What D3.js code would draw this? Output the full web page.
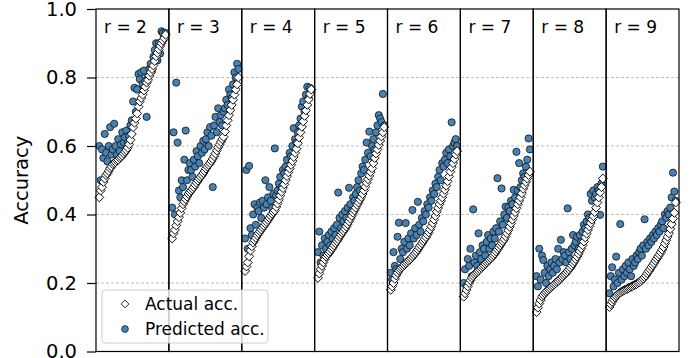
<!DOCTYPE html>
<html>
<head>
<meta charset="utf-8">
<script src="https://cdn.jsdelivr.net/npm/d3@7"></script>
<style>
  html, body { margin: 0; padding: 0; background: #fff; }
  svg { display: block; font-family: "DejaVu Sans", sans-serif; }
</style>
</head>
<body>
<svg id="chart" width="694" height="358"></svg>
<script>
// ---------------- data ----------------
const panels = [2, 3, 4, 5, 6, 7, 8, 9];
const yTicks = [0.0, 0.2, 0.4, 0.6, 0.8, 1.0];
const legendLabels = ["Actual acc.", "Predicted acc."];

const actualR2 = [0.45,0.47,0.48,0.495,0.505,0.515,0.52,0.527,0.535,0.54,0.547,0.55,0.553,0.557,0.56,0.565,0.568,0.572,0.578,0.583,0.588,0.595,0.605,0.618,0.635,0.655,0.668,0.68,0.695,0.715,0.73,0.74,0.75,0.762,0.773,0.785,0.793,0.805,0.815,0.825,0.835,0.848,0.862,0.872,0.882,0.892,0.9,0.908,0.915,0.925];
const predictedR2 = [0.60,0.50,0.59,0.565,0.635,0.58,0.555,0.60,0.655,0.575,0.59,0.665,0.60,0.575,0.62,0.585,0.605,0.64,0.61,0.625,0.645,0.61,0.63,0.66,0.675,0.73,0.77,0.70,0.765,0.81,0.795,0.815,0.78,0.82,0.79,0.685,0.80,0.825,0.84,0.82,0.86,0.88,0.90,0.85,0.90,0.87,0.935,0.93,0.92,0.93];

const actualR3 = [0.33,0.345,0.355,0.368,0.38,0.392,0.405,0.418,0.43,0.438,0.445,0.452,0.46,0.465,0.47,0.475,0.48,0.487,0.493,0.499,0.505,0.51,0.515,0.521,0.527,0.534,0.54,0.545,0.55,0.556,0.562,0.57,0.578,0.587,0.596,0.604,0.612,0.62,0.627,0.642,0.66,0.675,0.69,0.705,0.72,0.735,0.75,0.765,0.78,0.80];
const predictedR3 = [0.42,0.64,0.40,0.785,0.61,0.47,0.45,0.50,0.48,0.56,0.645,0.50,0.53,0.55,0.53,0.51,0.56,0.54,0.585,0.57,0.55,0.60,0.58,0.615,0.59,0.62,0.64,0.60,0.655,0.63,0.48,0.66,0.685,0.64,0.71,0.67,0.69,0.66,0.70,0.71,0.735,0.72,0.765,0.75,0.74,0.78,0.815,0.80,0.84,0.825];

const actualR4 = [0.235,0.248,0.26,0.278,0.295,0.307,0.318,0.325,0.332,0.339,0.345,0.351,0.356,0.362,0.367,0.373,0.378,0.384,0.39,0.396,0.402,0.407,0.412,0.422,0.432,0.443,0.455,0.466,0.477,0.488,0.50,0.512,0.523,0.534,0.545,0.556,0.568,0.58,0.592,0.608,0.625,0.64,0.656,0.672,0.688,0.704,0.72,0.736,0.752,0.765];
const predictedR4 = [0.33,0.53,0.30,0.542,0.36,0.34,0.40,0.43,0.37,0.42,0.41,0.435,0.39,0.44,0.42,0.50,0.43,0.45,0.48,0.44,0.42,0.46,0.593,0.455,0.47,0.49,0.51,0.48,0.53,0.52,0.54,0.56,0.53,0.58,0.57,0.60,0.652,0.62,0.61,0.64,0.66,0.68,0.715,0.73,0.70,0.75,0.773,0.74,0.77,0.76];

const actualR5 = [0.215,0.228,0.24,0.25,0.26,0.269,0.277,0.282,0.287,0.292,0.298,0.304,0.31,0.316,0.322,0.328,0.335,0.341,0.347,0.352,0.358,0.365,0.372,0.38,0.388,0.396,0.405,0.412,0.42,0.428,0.435,0.443,0.451,0.46,0.47,0.481,0.493,0.503,0.513,0.524,0.535,0.55,0.565,0.578,0.59,0.603,0.615,0.628,0.64,0.655];
const predictedR5 = [0.29,0.35,0.26,0.31,0.28,0.33,0.30,0.32,0.34,0.31,0.35,0.33,0.36,0.34,0.37,0.464,0.39,0.36,0.40,0.38,0.41,0.39,0.42,0.478,0.43,0.41,0.45,0.44,0.46,0.48,0.50,0.47,0.52,0.54,0.53,0.56,0.61,0.58,0.642,0.57,0.60,0.62,0.59,0.64,0.66,0.69,0.68,0.67,0.752,0.66];

const actualR6 = [0.18,0.19,0.20,0.212,0.222,0.23,0.237,0.241,0.245,0.249,0.253,0.257,0.261,0.265,0.268,0.272,0.277,0.282,0.287,0.292,0.298,0.304,0.31,0.316,0.322,0.328,0.334,0.341,0.348,0.356,0.365,0.375,0.385,0.396,0.408,0.419,0.43,0.44,0.45,0.461,0.472,0.484,0.497,0.511,0.525,0.538,0.55,0.562,0.575,0.585];
const predictedR6 = [0.23,0.21,0.29,0.25,0.24,0.335,0.376,0.27,0.30,0.29,0.32,0.375,0.30,0.33,0.31,0.345,0.413,0.33,0.36,0.34,0.437,0.37,0.35,0.39,0.38,0.41,0.40,0.43,0.42,0.45,0.44,0.47,0.46,0.49,0.48,0.51,0.53,0.50,0.55,0.54,0.56,0.58,0.55,0.59,0.57,0.669,0.60,0.61,0.62,0.60];

const actualR7 = [0.16,0.17,0.18,0.19,0.20,0.208,0.215,0.22,0.225,0.229,0.232,0.236,0.24,0.244,0.248,0.252,0.256,0.26,0.264,0.268,0.272,0.276,0.281,0.286,0.292,0.298,0.304,0.31,0.316,0.322,0.328,0.336,0.345,0.354,0.364,0.374,0.385,0.396,0.407,0.418,0.43,0.44,0.45,0.462,0.475,0.485,0.495,0.505,0.515,0.525];
const predictedR7 = [0.20,0.24,0.19,0.27,0.25,0.30,0.22,0.415,0.26,0.28,0.25,0.345,0.29,0.27,0.31,0.30,0.28,0.32,0.34,0.30,0.33,0.31,0.35,0.33,0.36,0.506,0.35,0.38,0.476,0.37,0.40,0.423,0.39,0.42,0.41,0.44,0.43,0.472,0.45,0.583,0.47,0.55,0.48,0.50,0.52,0.51,0.54,0.56,0.622,0.59];

const actualR8 = [0.115,0.128,0.14,0.15,0.16,0.165,0.17,0.174,0.178,0.182,0.185,0.189,0.192,0.196,0.199,0.203,0.206,0.21,0.214,0.218,0.222,0.226,0.23,0.235,0.24,0.245,0.251,0.257,0.263,0.27,0.277,0.285,0.293,0.301,0.31,0.321,0.333,0.344,0.355,0.365,0.375,0.385,0.395,0.407,0.42,0.435,0.45,0.465,0.48,0.505];
const predictedR8 = [0.22,0.19,0.30,0.21,0.28,0.267,0.23,0.20,0.25,0.22,0.24,0.26,0.23,0.25,0.27,0.24,0.30,0.26,0.326,0.27,0.29,0.28,0.26,0.418,0.29,0.27,0.30,0.34,0.31,0.32,0.335,0.30,0.34,0.32,0.35,0.37,0.36,0.38,0.40,0.39,0.46,0.44,0.47,0.45,0.46,0.48,0.47,0.399,0.49,0.54];

const actualR9 = [0.13,0.138,0.145,0.152,0.158,0.162,0.166,0.169,0.172,0.175,0.177,0.179,0.181,0.183,0.185,0.187,0.189,0.191,0.193,0.195,0.197,0.2,0.202,0.205,0.209,0.213,0.217,0.222,0.228,0.234,0.24,0.246,0.252,0.258,0.265,0.271,0.277,0.283,0.29,0.297,0.305,0.315,0.325,0.335,0.345,0.358,0.372,0.388,0.405,0.435];
const predictedR9 = [0.17,0.22,0.246,0.19,0.21,0.277,0.20,0.23,0.372,0.21,0.24,0.22,0.25,0.23,0.26,0.24,0.22,0.27,0.25,0.26,0.28,0.27,0.29,0.30,0.28,0.31,0.386,0.30,0.32,0.31,0.33,0.32,0.34,0.33,0.35,0.34,0.36,0.35,0.37,0.38,0.36,0.40,0.39,0.41,0.40,0.42,0.45,0.522,0.467,0.44];

const actualSeries = [actualR2, actualR3, actualR4, actualR5, actualR6, actualR7, actualR8, actualR9];
const predictedSeries = [predictedR2, predictedR3, predictedR4, predictedR5, predictedR6, predictedR7, predictedR8, predictedR9];

// ---------------- drawing ----------------
const svg = d3.select("#chart");
const plotLeft = 96, plotRight = 679, plotTop = 9, plotBottom = 351.5;
const blue = "#4682b4";

const y = d3.scaleLinear().domain([0, 1]).range([plotBottom, plotTop]);
const band = d3.scaleBand().domain(panels).range([plotLeft, plotRight]).paddingInner(0).paddingOuter(0);

// grid lines
const gridG = svg.append("g");
gridG.selectAll("line").data(yTicks.filter(t => t > 0 && t < 1)).join("line")
  .attr("x1", plotLeft).attr("x2", plotRight)
  .attr("y1", d => y(d)).attr("y2", d => y(d))
  .attr("stroke", "#b0b0b0").attr("stroke-width", 0.8)
  .attr("stroke-dasharray", "3,2");

const diamond = d3.symbol().type(d3.symbolSquare).size(40);

panels.forEach((r, pi) => {
  const x0 = band(r), bw = band.bandwidth();
  const act = actualSeries[pi], pred = predictedSeries[pi];
  const n = act.length;
  const x = d3.scaleLinear().domain([-(n - 1) * 0.05, (n - 1) * 1.05]).range([x0, x0 + bw]);
  const g = svg.append("g");

  g.selectAll("circle").data(pred).join("circle")
    .attr("cx", (d, i) => x(i)).attr("cy", d => y(d)).attr("r", 3.6)
    .attr("fill", blue).attr("stroke", "#111").attr("stroke-width", 0.8);

  g.selectAll("path.act").data(act).join("path").attr("class", "act")
    .attr("d", diamond)
    .attr("transform", (d, i) => `translate(${x(i)},${y(d)}) rotate(45)`)
    .attr("fill", "#fff").attr("stroke", "#000").attr("stroke-width", 0.9);

  g.append("text").attr("x", x0 + 8).attr("y", 33)
    .attr("font-size", 17).attr("fill", "#000").text(`r = ${r}`);
});

// panel frames
svg.append("g").selectAll("rect").data(panels).join("rect")
  .attr("x", d => band(d)).attr("y", plotTop)
  .attr("width", band.bandwidth()).attr("height", plotBottom - plotTop)
  .attr("fill", "none").attr("stroke", "#000").attr("stroke-width", 1.2);

// y axis
const yAxis = d3.axisLeft(y).tickValues(yTicks).tickFormat(d3.format(".1f"))
  .tickSize(9).tickPadding(10);
const axG = svg.append("g").attr("transform", `translate(${plotLeft},0)`).call(yAxis);
axG.select(".domain").remove();
axG.selectAll(".tick line").attr("stroke", "#000").attr("stroke-width", 1.2);
axG.selectAll(".tick text").attr("font-size", 19.5).attr("fill", "#000")
  .attr("font-family", "DejaVu Sans, sans-serif");

svg.append("text")
  .attr("transform", `translate(28,${(plotTop + plotBottom) / 2}) rotate(-90)`)
  .attr("text-anchor", "middle").attr("font-size", 19.5).attr("fill", "#000")
  .text("Accuracy");

// legend
const lg = svg.append("g");
lg.append("rect").attr("x", 102).attr("y", 290).attr("width", 166).attr("height", 53)
  .attr("rx", 3).attr("fill", "#fff").attr("fill-opacity", 0.8)
  .attr("stroke", "#cccccc").attr("stroke-width", 1);
lg.append("path").attr("d", d3.symbol().type(d3.symbolSquare).size(30))
  .attr("transform", "translate(125,304) rotate(45)")
  .attr("fill", "#fff").attr("stroke", "#000").attr("stroke-width", 0.8);
lg.append("circle").attr("cx", 125).attr("cy", 329).attr("r", 3.4)
  .attr("fill", blue).attr("stroke", "#111").attr("stroke-width", 0.7);
lg.selectAll("text.leg").data(legendLabels).join("text").attr("class", "leg")
  .attr("x", 145).attr("y", (d, i) => 310 + i * 25)
  .attr("font-size", 17).attr("fill", "#000").text(d => d);
</script>
</body>
</html>
